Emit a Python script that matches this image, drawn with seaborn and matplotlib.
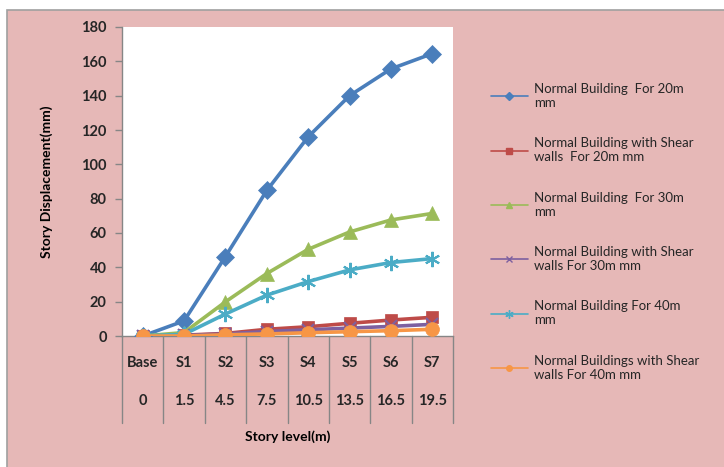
import matplotlib
matplotlib.use("Agg")
import matplotlib.pyplot as plt
import seaborn as sns
import pandas as pd
from matplotlib.lines import Line2D
from matplotlib.patches import Rectangle

stories = ["Base", "S1", "S2", "S3", "S4", "S5", "S6", "S7"]
levels = ["0", "1.5", "4.5", "7.5", "10.5", "13.5", "16.5", "19.5"]

normal_20 = [0, 8.8, 46.3, 84.8, 116, 140, 155.6, 164.5]
shear_20 = [0, 0.5, 1.5, 3.9, 5.4, 7.4, 9.3, 10.9]
normal_30 = [0, 2.0, 19.9, 36.4, 50.5, 60.6, 67.6, 71.4]
shear_30 = [0, 0.3, 1.2, 2.6, 3.6, 4.6, 5.6, 6.8]
normal_40 = [0, 1.0, 12.8, 23.8, 31.7, 38.5, 42.8, 45.1]
shear_40 = [0, 0, 0.7, 1.2, 1.9, 2.5, 3.1, 3.9]

series = [
    ("Normal Building  For 20m\nmm", normal_20, "#4A7EBB", "D", 9),
    ("Normal Building with Shear\nwalls  For 20m mm", shear_20, "#BE4B48", "s", 9),
    ("Normal Building  For 30m\nmm", normal_30, "#9BBB59", "^", 10),
    ("Normal Building with Shear\nwalls For 30m mm", shear_30, "#7D60A0", "x", 8),
    ("Normal Building For 40m\nmm", normal_40, "#4BACC6", (6, 2, 0), 11),
    ("Normal Buildings with Shear\nwalls For 40m mm", shear_40, "#F79646", "o", 10),
]

rows = []
for name, vals, _, _, _ in series:
    for i, v in enumerate(vals):
        rows.append({"pos": i, "disp": v, "series": name})
df = pd.DataFrame(rows)

sns.set_theme(style="white")
plt.rcParams["font.family"] = ["Lato", "DejaVu Sans"]

W, H = 724, 467
fig = plt.figure(figsize=(W / 100, H / 100), dpi=100)
fig.patch.set_facecolor("white")
pink = "#E6B8B7"
bg = Rectangle((7 / W, -0.01), 1, 1 - 10 / H + 0.01, transform=fig.transFigure,
               facecolor=pink, edgecolor="#A0A0A0", linewidth=1.2, zorder=-10)
fig.add_artist(bg)

x0, x1, ytop, ybot = 122, 453, 27, 336
ax = fig.add_axes([x0 / W, 1 - ybot / H, (x1 - x0) / W, (ybot - ytop) / H])
ax.set_facecolor("white")

for name, vals, color, mk, ms in series:
    sub = df[df["series"] == name]
    sns.lineplot(data=sub, x="pos", y="disp", ax=ax, color=color, marker=mk,
                 markersize=ms, markeredgecolor=color,
                 markeredgewidth=1.5 if mk in ("x", (6, 2, 0)) else 0.5,
                 linewidth=2.6, legend=False, zorder=3)

ax.set_xlim(-0.5, 7.5)
ax.set_ylim(0, 180)
ax.set_yticks(range(0, 181, 20))
ax.set_yticklabels([str(v) for v in range(0, 181, 20)], fontsize=10.5, fontweight="bold", color="#262626")
ax.tick_params(axis="y", direction="out", length=5, color="#868686", width=1, pad=6, left=True)
ax.set_xticks([])
for side in ["top", "right"]:
    ax.spines[side].set_visible(False)
for side in ["left", "bottom"]:
    ax.spines[side].set_color("#868686")
    ax.spines[side].set_linewidth(1)
ax.set_xlabel("")
ax.set_ylabel("")

# two-level category axis with dividers
trans = ax.get_xaxis_transform()
div_bottom = -(423 - ybot) / (ybot - ytop)
for b in range(9):
    ax.add_line(Line2D([b - 0.5, b - 0.5], [0, div_bottom], transform=trans,
                       color="#868686", linewidth=1, clip_on=False))
y1 = -(363 - ybot) / (ybot - ytop)
y2 = -(401 - ybot) / (ybot - ytop)
for i in range(8):
    ax.text(i, y1, stories[i], transform=trans, ha="center", va="center",
            fontsize=10.5, fontweight="bold", color="#262626")
    ax.text(i, y2, levels[i], transform=trans, ha="center", va="center",
            fontsize=10.5, fontweight="bold", color="#262626")

fig.text((x0 + x1) / 2 / W, 1 - 437 / H, "Story level(m)", ha="center", va="center",
         fontsize=10, fontweight="bold", color="black")
fig.text(47 / W, 1 - 182 / H, "Story Displacement(mm)", ha="center", va="center",
         rotation=90, fontsize=10, fontweight="bold", color="black")

handles = [Line2D([], [], color=c, marker=m, markersize=4 if m != (6, 2, 0) else 6,
                  markeredgecolor=c, linewidth=1.2) for _, _, c, m, _ in series]
labels = [s[0] for s in series]
fig.legend(handles, labels, loc="upper left", bbox_to_anchor=(479 / W, 1 - 71 / H),
           frameon=False, fontsize=9.5, handlelength=2.8, labelspacing=2.15,
           handletextpad=0.5, labelcolor="#262626")

fig.savefig("out.png", dpi=100, facecolor=fig.get_facecolor())
